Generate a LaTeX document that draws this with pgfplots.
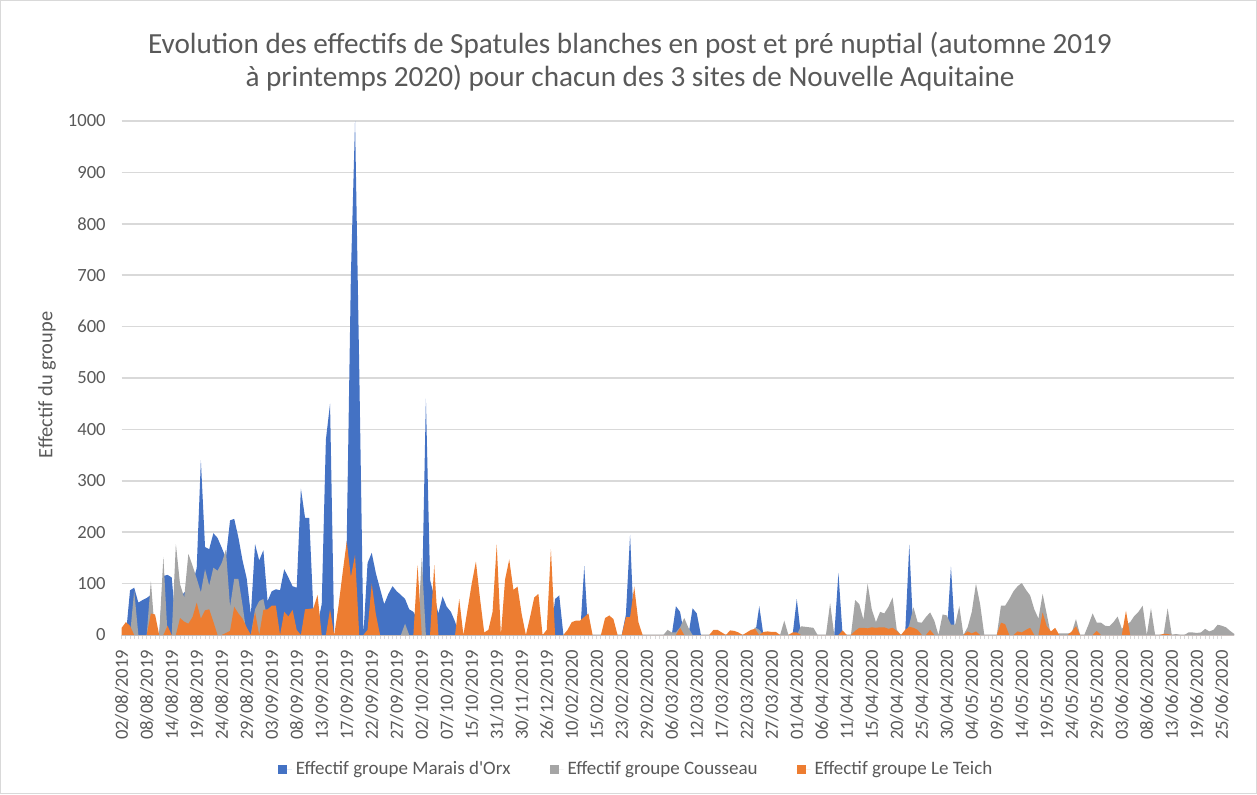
\documentclass[border=0pt]{standalone}
\usepackage{fontspec}
\setmainfont{Carlito}
\usepackage{pgfplots}
\usepackage{pgfplotstable}
\pgfplotsset{compat=1.18}
\definecolor{orx}{HTML}{4472C4}
\definecolor{cou}{HTML}{A5A5A5}
\definecolor{tei}{HTML}{ED7D31}
\definecolor{txt}{HTML}{595959}
\definecolor{grd}{HTML}{D9D9D9}

% i = rang de la date de comptage (1..268)
% B = Marais d'Orx, G = Cousseau, O = Le Teich
\pgfplotstableread[row sep=\\]{
i B G O\\
1 0 0 14\\ 2 0 0 25\\ 3 87 0 18\\ 4 92 86 0\\ 5 63 0 0\\ 6 68 0 0\\ 7 72 0 0\\
8 78 105 42\\ 9 0 0 40\\ 10 0 0 0\\ 11 115 152 0\\ 12 117 0 18\\ 13 112 0 0\\ 14 20 177 0\\
15 70 99 33\\ 16 83 73 26\\ 17 85 158 22\\ 18 100 135 35\\ 19 130 110 63\\ 20 340 83 32\\
21 171 128 48\\ 22 167 96 50\\ 23 198 131 26\\ 24 189 125 0\\ 25 170 140 0\\ 26 150 166 4\\
27 223 55 8\\ 28 226 109 55\\ 29 190 109 42\\ 30 145 58 32\\ 31 110 0 15\\ 32 40 0 0\\
33 177 50 45\\ 34 145 66 0\\ 35 165 70 49\\ 36 66 30 50\\ 37 85 0 57\\ 38 89 0 57\\
39 87 0 0\\ 40 128 0 45\\ 41 112 0 36\\ 42 95 0 49\\ 43 92 0 10\\ 44 285 0 0\\
45 228 0 50\\ 46 228 0 51\\ 47 48 0 52\\ 48 20 0 78\\ 49 60 0 0\\ 50 380 0 0\\
51 450 0 50\\ 52 0 0 0\\ 53 0 0 55\\ 54 0 0 120\\ 55 180 0 182\\ 56 700 0 113\\
57 1000 0 156\\ 58 520 0 0\\ 59 0 0 0\\ 60 140 0 10\\ 61 160 0 100\\ 62 120 0 40\\
63 90 0 0\\ 64 60 0 0\\ 65 80 0 0\\ 66 95 0 0\\ 67 85 0 0\\ 68 78 0 0\\ 69 70 22 0\\
70 50 0 0\\ 71 45 0 0\\ 72 30 0 136\\ 73 40 150 0\\ 74 460 0 0\\ 75 107 0 0\\ 76 75 0 136\\
77 42 0 0\\ 78 75 0 0\\ 79 55 0 0\\ 80 45 0 0\\ 81 26 0 0\\ 82 0 0 70\\ 83 0 0 0\\
84 0 0 50\\ 85 0 0 100\\ 86 0 0 143\\ 87 0 0 70\\ 88 0 0 5\\ 89 0 0 10\\ 90 0 0 45\\
91 0 0 176\\ 92 0 0 0\\ 93 0 0 108\\ 94 0 0 147\\ 95 0 0 88\\ 96 0 0 94\\ 97 0 0 40\\
98 0 0 0\\ 99 0 0 35\\ 100 0 0 73\\ 101 0 0 80\\ 102 0 0 0\\ 103 0 0 10\\ 104 0 0 167\\
105 70 0 0\\ 106 77 0 0\\ 107 0 0 0\\ 108 0 0 10\\ 109 0 0 25\\ 110 0 0 28\\ 111 0 0 28\\
112 134 0 35\\ 113 0 0 42\\ 114 0 0 0\\ 115 0 0 0\\ 116 0 0 0\\ 117 0 0 33\\ 118 0 0 38\\
119 0 0 31\\ 120 0 0 0\\ 121 0 0 0\\ 122 40 0 35\\ 123 195 0 35\\ 124 0 0 94\\ 125 0 0 25\\
126 0 0 0\\ 127 0 0 0\\ 128 0 0 0\\ 129 0 0 0\\ 130 0 0 0\\ 131 0 0 0\\ 132 0 10 0\\
133 0 5 0\\ 134 56 5 0\\ 135 45 15 14\\ 136 0 33 0\\ 137 0 14 0\\ 138 52 0 0\\ 139 42 0 0\\
140 0 0 0\\ 141 0 0 0\\ 142 0 0 0\\ 143 0 0 10\\ 144 0 0 10\\ 145 0 0 5\\ 146 0 0 0\\
147 0 0 9\\ 148 0 0 8\\ 149 0 0 5\\ 150 0 0 0\\ 151 0 0 5\\ 152 0 0 10\\ 153 0 15 12\\
154 56 10 0\\ 155 0 0 6\\ 156 0 0 7\\ 157 0 0 6\\ 158 0 0 6\\ 159 0 0 0\\ 160 0 28 0\\
161 0 0 0\\ 162 0 0 5\\ 163 70 0 5\\ 164 0 17 0\\ 165 0 16 0\\ 166 0 15 0\\ 167 0 14 0\\
168 0 0 0\\ 169 0 0 0\\ 170 0 0 0\\ 171 0 62 0\\ 172 0 0 0\\ 173 121 0 0\\ 174 0 0 9\\
175 0 0 0\\ 176 0 0 0\\ 177 0 68 8\\ 178 0 60 14\\ 179 0 30 14\\ 180 0 100 13\\ 181 0 50 15\\
182 0 25 14\\ 183 0 45 15\\ 184 0 42 15\\ 185 0 55 12\\ 186 0 73 14\\ 187 0 10 8\\ 188 0 0 0\\
189 0 0 10\\ 190 176 20 16\\ 191 0 54 14\\ 192 0 25 10\\ 193 0 24 0\\ 194 0 35 0\\ 195 0 44 10\\
196 0 28 0\\ 197 0 0 0\\ 198 0 40 0\\ 199 0 38 0\\ 200 133 20 0\\ 201 0 20 0\\ 202 0 56 0\\
203 0 0 0\\ 204 0 15 7\\ 205 0 45 3\\ 206 0 100 7\\ 207 0 60 0\\ 208 0 0 0\\ 209 0 0 0\\
210 0 0 0\\ 211 0 0 0\\ 212 0 57 24\\ 213 0 57 21\\ 214 0 70 0\\ 215 0 85 0\\ 216 0 95 7\\
217 0 101 5\\ 218 0 88 10\\ 219 0 77 14\\ 220 0 50 0\\ 221 0 32 0\\ 222 0 80 44\\ 223 0 40 17\\
224 0 0 7\\ 225 0 2 14\\ 226 0 3 0\\ 227 0 3 0\\ 228 0 3 0\\ 229 0 5 7\\ 230 0 31 17\\
231 0 0 0\\ 232 0 0 0\\ 233 0 20 0\\ 234 0 42 0\\ 235 0 24 8\\ 236 0 24 0\\ 237 0 18 0\\
238 0 17 0\\ 239 0 25 0\\ 240 0 36 0\\ 241 0 12 0\\ 242 0 20 47\\ 243 0 25 0\\ 244 0 37 0\\
245 0 45 0\\ 246 0 57 0\\ 247 0 0 0\\ 248 0 52 0\\ 249 0 0 0\\ 250 0 0 0\\ 251 0 0 2\\
252 0 52 2\\ 253 0 0 0\\ 254 0 2 0\\ 255 0 0 0\\ 256 0 0 0\\ 257 0 5 0\\ 258 0 5 0\\
259 0 4 0\\ 260 0 5 0\\ 261 0 12 0\\ 262 0 7 0\\ 263 0 10 0\\ 264 0 20 0\\ 265 0 18 0\\
266 0 15 0\\ 267 0 8 0\\ 268 0 2 0\\
}\spatules

\begin{document}
\begin{tikzpicture}
\path (-60.85pt,-79.5pt) rectangle (567.65pt,317.5pt);
\draw[grd, line width=0.5pt] (-60.6pt,-79.25pt) rectangle (567.4pt,317.25pt);
\begin{axis}[
    at={(0pt,0pt)}, anchor=south west,
    scale only axis,
    width=556.3pt, height=257pt,
    xmin=1, xmax=268,
    ymin=0, ymax=1000,
    ytick={0,100,...,1000},
    xtick={1,7,...,265},
    xticklabels={02/08/2019,08/08/2019,14/08/2019,19/08/2019,24/08/2019,29/08/2019,
      03/09/2019,08/09/2019,13/09/2019,17/09/2019,22/09/2019,27/09/2019,
      02/10/2019,07/10/2019,15/10/2019,31/10/2019,30/11/2019,26/12/2019,
      10/02/2020,15/02/2020,23/02/2020,29/02/2020,06/03/2020,12/03/2020,
      17/03/2020,22/03/2020,27/03/2020,01/04/2020,06/04/2020,11/04/2020,
      15/04/2020,20/04/2020,25/04/2020,30/04/2020,04/05/2020,09/05/2020,
      14/05/2020,19/05/2020,24/05/2020,29/05/2020,03/06/2020,08/06/2020,
      13/06/2020,19/06/2020,25/06/2020},
    minor x tick num=5,
    axis x line*=bottom,
    axis y line*=left,
    x axis line style={draw=grd, line width=0.75pt},
    y axis line style={draw=none},
    ytick style={draw=none},
    xtick style={draw=grd, line width=0.5pt},
    minor tick style={draw=grd, line width=0.5pt},
    tick align=outside,
    major tick length=2pt, minor tick length=2pt,
    ymajorgrids,
    grid style={draw=grd, line width=0.75pt},
    /pgf/number format/assume math mode=true,
    /pgf/number format/1000 sep={},
    ticklabel style={font=\fontsize{9.3}{11}\selectfont, text=txt},
    xticklabel style={rotate=90, anchor=east},
    xticklabel shift=2pt,
    yticklabel shift=2.5pt,
    legend columns=3,
    legend style={at={(0.4632,-0.2619)}, anchor=center, draw=none,
      font=\fontsize{9.5}{11}\selectfont, text=txt,
      /tikz/every even column/.append style={column sep=17.5pt}},
    legend image code/.code={\fill[#1] (0pt,-2.3pt) rectangle (4.65pt,2.35pt);
      \path (0pt,0pt) -- (7pt,0pt);},
]
\addplot[fill=orx, draw=none] table[x=i, y=B] {\spatules} \closedcycle;
\addlegendentry{Effectif groupe Marais d\textquotesingle Orx}
\addplot[fill=cou, draw=none] table[x=i, y=G] {\spatules} \closedcycle;
\addlegendentry{Effectif groupe Cousseau}
\addplot[fill=tei, draw=none] table[x=i, y=O] {\spatules} \closedcycle;
\addlegendentry{Effectif groupe Le Teich}
\end{axis}
\node[align=center, font=\fontsize{14.6}{16.5}\selectfont, text=txt] at (254.15pt,286.75pt)
  {Evolution des effectifs de Spatules blanches en post et pré nuptial (automne 2019\\
   à printemps 2020) pour chacun des 3 sites de Nouvelle Aquitaine};
\node[rotate=90, font=\fontsize{10.2}{12}\selectfont, text=txt] at (-37.35pt,125pt) {Effectif du groupe};
\end{tikzpicture}
\end{document}
